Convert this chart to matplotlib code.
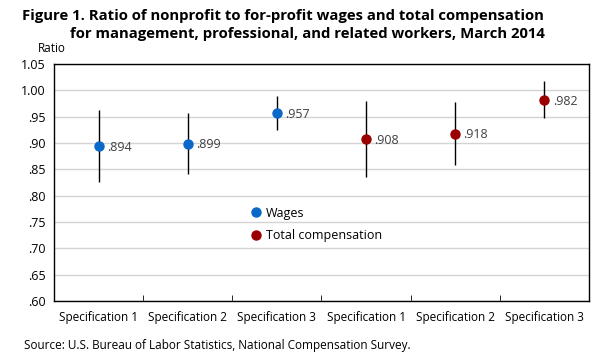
import matplotlib.pyplot as plt
from matplotlib.ticker import FixedLocator

plt.rcParams['font.family'] = ['Open Sans', 'DejaVu Sans']

categories = ['Specification 1', 'Specification 2', 'Specification 3',
              'Specification 1', 'Specification 2', 'Specification 3']
wages = [0.894, 0.899, 0.957]
wages_err = [0.068, 0.058, 0.033]
total_comp = [0.908, 0.918, 0.982]
total_err = [0.072, 0.059, 0.035]
yticks = [0.60, 0.65, 0.70, 0.75, 0.80, 0.85, 0.90, 0.95, 1.00, 1.05]

blue = '#0a68c9'
red = '#9b0000'

fig = plt.figure(figsize=(6.04, 3.61), dpi=100)
ax = fig.add_axes([54 / 604, 1 - 301 / 361, 535 / 604, 237 / 361])

xw = [0, 1, 2]
xt = [3, 4, 5]
ax.errorbar(xw, wages, yerr=wages_err, fmt='none', ecolor='black', elinewidth=1, zorder=2)
ax.errorbar(xt, total_comp, yerr=total_err, fmt='none', ecolor='black', elinewidth=1, zorder=2)
ax.plot(xw, wages, 'o', color=blue, markersize=6.5, label='Wages', zorder=3)
ax.plot(xt, total_comp, 'o', color=red, markersize=6.5, label='Total compensation', zorder=3)

for x, v in zip(xw + xt, wages + total_comp):
    ax.annotate(f'{v:.3f}'.lstrip('0'), (x, v), xytext=(6, -1), textcoords='offset points',
                va='center', ha='left', fontsize=9, color='#404040')

ax.set_xlim(-0.5, 5.5)
ax.set_ylim(0.60, 1.05)
ax.set_yticks(yticks)
ax.set_yticklabels([f'{t:.2f}'.lstrip('0') if t < 1 else f'{t:.2f}' for t in yticks], fontsize=9)
ax.set_xticks(range(len(categories)))
ax.set_xticklabels(categories, fontsize=8.5)
ax.xaxis.set_minor_locator(FixedLocator([0.5, 1.5, 2.5, 3.5, 4.5]))
ax.tick_params(axis='x', which='major', length=0, pad=7)
ax.tick_params(axis='x', which='minor', length=4, direction='in')
ax.tick_params(axis='y', length=0, pad=6)
ax.grid(axis='y', color='#d4d4d4', linewidth=1)
ax.set_axisbelow(True)
for s in ax.spines.values():
    s.set_color('black')
    s.set_linewidth(1)

ax.legend(loc='upper left', bbox_to_anchor=(0.345, 0.445), frameon=False, fontsize=9,
          handletextpad=0.3, labelspacing=0.75, handlelength=1.0)

fig.text(22 / 604, 1 - 16 / 361, 'Figure 1. Ratio of nonprofit to for-profit wages and total compensation',
         fontsize=10.7, fontweight='bold', va='center')
fig.text(70 / 604, 1 - 34 / 361, 'for management, professional, and related workers, March 2014',
         fontsize=10.7, fontweight='bold', va='center')
fig.text(38 / 604, 1 - 48 / 361, 'Ratio', fontsize=8.5, va='center')
fig.text(24 / 604, 1 - 346 / 361, 'Source: U.S. Bureau of Labor Statistics, National Compensation Survey.',
         fontsize=8.5, va='center')

fig.savefig('out.png', dpi=100)
